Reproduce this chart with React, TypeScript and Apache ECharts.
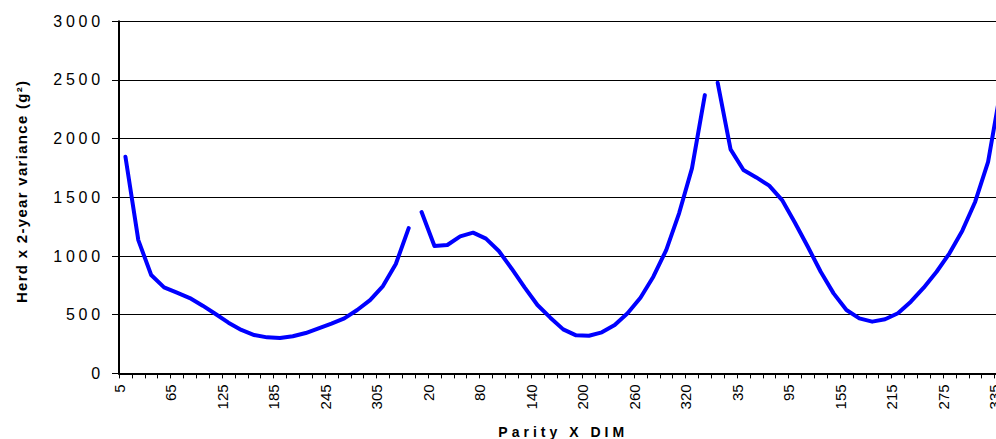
import React, { useEffect, useRef } from "react";
import * as echarts from "echarts";

// Parity blocks and days-in-milk categories (x axis)
const parities = [1, 2, 3];
const dimLabels = [5, 20, 35, 50, 65, 80, 95, 110, 125, 140, 155, 170, 185, 200, 215, 230, 245, 260, 275, 290, 305, 320, 335];

// Herd x 2-year variance (g^2) per parity, one value per DIM
const parity1 = [1846, 1136, 838, 733, 688, 642, 577, 506, 432, 370, 327, 307, 301, 316, 344, 384, 425, 469, 540, 625, 744, 932, 1238];
const parity2 = [1375, 1085, 1094, 1168, 1199, 1148, 1043, 892, 733, 583, 475, 375, 324, 321, 350, 412, 512, 645, 824, 1051, 1364, 1747, 2371];
const parity3 = [2476, 1909, 1733, 1670, 1600, 1477, 1284, 1079, 866, 682, 540, 469, 441, 461, 512, 611, 730, 866, 1023, 1216, 1463, 1803, 2430];

const yMin = 0;
const yMax = 3000;
const yStep = 500;
const labelEvery = 4;

export default function App() {
  const ref = useRef<HTMLDivElement>(null);

  useEffect(() => {
    if (!ref.current) return;
    const chart = echarts.init(ref.current, undefined, { renderer: "svg" });
    const perParity = dimLabels.length;
    const total = perParity * parities.length;
    const blocks = [parity1, parity2, parity3];

    const series = blocks.map((vals, p) => ({
      type: "line",
      name: "Parity " + parities[p],
      data: vals.map((v, k) => [p * perParity + k + 0.5, v]),
      showSymbol: false,
      symbol: "none",
      lineStyle: { color: "#0000ff", width: 4, cap: "round", join: "round" },
      silent: true,
    }));

    chart.setOption({
      animation: false,
      backgroundColor: "#ffffff",
      grid: {
        left: 119,
        top: 21.3,
        width: 888.4,
        height: 352.1,
        containLabel: false,
        outerBoundsMode: "none",
      },
      xAxis: {
        type: "value",
        min: 0,
        max: total,
        interval: 1,
        axisLine: { show: true, onZero: false, lineStyle: { color: "#000", width: 2 } },
        axisTick: { show: true, length: 5, lineStyle: { color: "#000", width: 1 } },
        splitLine: { show: false },
        axisLabel: {
          rotate: 90,
          margin: 11,
          fontSize: 15,
          fontFamily: "'Liberation Sans'",
          color: "#000",
          showMinLabel: true,
          showMaxLabel: true,
          formatter: (v: number) => {
            const i = Math.round(v);
            if (i >= total || i % labelEvery !== 0) return "";
            return String(dimLabels[i % perParity]);
          },
        },
        name: "Parity X DIM",
        nameLocation: "middle",
        nameGap: 52,
        nameTextStyle: { fontSize: 14, fontWeight: "bold", fontFamily: "'Liberation Sans', sp40", color: "#000" },
      },
      yAxis: {
        type: "value",
        min: yMin,
        max: yMax,
        interval: yStep,
        axisLine: { show: true, lineStyle: { color: "#000", width: 2 } },
        axisTick: { show: true, length: 7, lineStyle: { color: "#000", width: 1 } },
        splitLine: { show: true, lineStyle: { color: "#000", width: 1 } },
        axisLabel: {
          margin: 15,
          fontSize: 16,
          fontFamily: "'Liberation Sans', sp38",
          color: "#000",
          formatter: (v: number) => String(v),
        },
        name: "Herd x 2-year variance (g²)",
        nameLocation: "middle",
        nameRotate: 90,
        nameGap: 90,
        nameTextStyle: {
          fontSize: 15,
          fontWeight: "bold",
          fontFamily: "'Liberation Sans', sp13",
          color: "#000",
          padding: [0, 0, 0, 12],
        },
      },
      series,
    });
    return () => chart.dispose();
  }, []);

  return (
    <div style={{ position: "fixed", left: 0, top: 0, width: 996, height: 439, overflow: "hidden", background: "#fff" }}>
      <style>{`
        #chartbox text[style*="sp38"] { letter-spacing: 3.8px; }
        #chartbox text[style*="sp40"] { letter-spacing: 4px; }
        #chartbox text[style*="sp13"] { letter-spacing: 1.3px; }
      `}</style>
      <div id="chartbox" ref={ref} style={{ width: 1020, height: 439 }} />
    </div>
  );
}
